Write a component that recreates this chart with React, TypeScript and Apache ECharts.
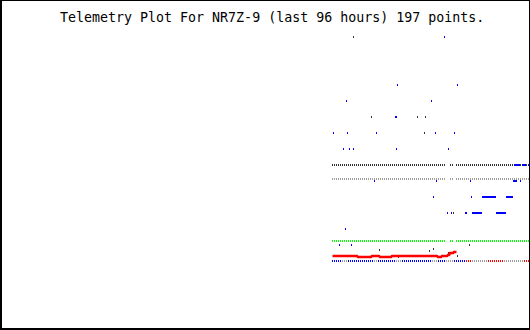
import { useEffect, useRef } from "react";
import * as echarts from "echarts";

const TITLE = "Telemetry Plot For NR7Z-9 (last 96 hours) 197 points.";

// sample index 0..98 (one reading every sample); null = no reading
const darkRow = [
  6,6,6,6,6,6,6,6,6,6, 6,6,6,6,6,6,6,6,6,6,
  6,6,6,6,6,6,6,6,6,6, 6,6,6,6,6,6,6,6,6,6,
  6,6,6,6,6,6,6,6,6,6, 6,6,6,6,6,6,6,null,null,6,
  6,null,6,6,6,6,6,6,6,6, 6,6,6,6,6,6,6,6,6,6,
  6,6,6,6,6,6,6,6,6,6, 6,6,6,6,6,6,6,6,6,
];
const grayRow = [
  5.125,5.125,5.125,5.125,5.125,5.125,5.125,5.125,5.125,5.125, 5.125,5.125,5.125,5.125,5.125,5.125,5.125,5.125,5.125,5.125,
  5.125,5.125,5.125,5.125,5.125,5.125,5.125,5.125,5.125,5.125, 5.125,5.125,5.125,5.125,5.125,5.125,5.125,5.125,5.125,5.125,
  5.125,5.125,5.125,5.125,5.125,5.125,5.125,5.125,5.125,5.125, 5.125,5.125,5.125,5.125,5.125,5.125,5.125,null,null,5.125,
  5.125,null,5.125,5.125,5.125,5.125,5.125,5.125,5.125,5.125, 5.125,5.125,5.125,5.125,5.125,5.125,5.125,5.125,5.125,5.125,
  5.125,5.125,5.125,5.125,5.125,5.125,5.125,5.125,5.125,5.125, 5.125,5.125,5.125,5.125,5.125,5.125,5.125,5.125,5.125,
];
const greenRow = [
  1.25,1.25,1.25,1.25,1.25,1.25,1.25,1.25,1.25,1.25, 1.25,1.25,1.25,1.25,1.25,1.25,1.25,1.25,1.25,1.25,
  1.25,1.25,1.25,1.25,1.25,1.25,1.25,1.25,1.25,1.25, 1.25,1.25,1.25,1.25,1.25,1.25,1.25,1.25,1.25,1.25,
  1.25,1.25,1.25,1.25,1.25,1.25,1.25,1.25,1.25,1.25, 1.25,1.25,1.25,1.25,1.25,1.25,1.25,null,null,1.25,
  1.25,null,1.25,1.25,1.25,1.25,1.25,1.25,1.25,1.25, 1.25,1.25,1.25,1.25,1.25,1.25,1.25,1.25,1.25,1.25,
  1.25,1.25,1.25,1.25,1.25,1.25,1.25,1.25,1.25,1.25, 1.25,1.25,1.25,1.25,1.25,1.25,1.25,1.25,1.25,
];
const grayBottom = [
  0,0,0,0,0,0,0,0,0,0, 0,0,0,0,0,0,0,0,0,0,
  0,0,0,0,0,0,0,0,0,0, 0,0,0,0,0,0,0,0,0,0,
  0,0,0,0,0,0,0,0,0,0, 0,0,0,0,0,0,0,0,0,0,
  0,0,0,0,0,0,0,0,0,0, 0,0,0,0,0,0,0,0,0,0,
  0,0,0,0,0,0,0,0,0,0, 0,0,0,0,0,0,0,0,0,
];
const blueBottom = [
  0,0,0,0,0,null,null,null,0,0, 0,0,0,0,0,0,0,0,0,0,
  0,null,null,0,0,0,0,0,0,0, 0,0,null,null,null,0,0,0,0,0,
  0,0,0,0,0,0,0,0,0,0, null,null,null,0,0,0,0,null,null,null,
  null,0,0,0,0,0,0,
];
const redLine = [
  0.3125,0.3125,0.3125,0.3125,0.3125,0.3125,0.3125,0.3125,0.3125,0.3125,
  0.3125,0.3125,0.3125,0.25,0.25,0.25,0.25,0.25,0.25,0.25,
  0.3125,0.3125,0.3125,0.3125,0.25,0.25,0.25,0.25,0.25,0.25,
  0.3125,0.3125,0.3125,0.3125,0.3125,0.3125,0.3125,0.3125,0.3125,0.3125,
  0.3125,0.3125,0.3125,0.3125,0.3125,0.3125,0.3125,0.3125,0.3125,0.3125,
  0.3125,0.3125,0.3125,0.25,0.25,0.3125,0.3125,0.3125,0.375,0.5,
  0.5,0.5625,0.5625,
];
// [sample, value] readings
const redBottom = [
  [67,0],[68,0],[69,0],[78,0],[79,0],[80,0],[81,0],[82,0],[83,0],[84,0],[85,0],[96,0],[97,0],[98,0],
];
const blueSpikes = [
  [0.5,8],[3.5,1],[5.5,7],[6.5,2],[7,10],[7.5,8],[8.5,7],[9.5,1],[10.5,7],[21,5],[22,8],
  [31.5,9],[32,9],[32,7],[32.5,11],[49.5,10],[50.5,4],[51.5,8],[52,5],[56,14],[57.5,3],
  [58,7],[59.5,3],[61,8],[62.5,11],[66.5,3],[67,3],[69,5],[69.5,4],
];
const blueRuns = [
  [70,3],[70.5,3],[71,3],[71.5,3],[72,3],[72.5,3],[73,3],[73.5,3],[74,3],[74.5,3],
  [75,4],[75.5,4],[76,4],[76.5,4],[77,4],[77.5,4],[78,4],[78.5,4],[79,4],[79.5,4],[80,4],[80.5,4],[81,4],[81.5,4],
  [82,3],[82.5,3],[83,3],[83.5,3],[84,3],[84.5,3],[85,3],[85.5,3],[86,3],[86.5,3],
  [87,4],[87.5,4],[88,4],[88.5,4],[89,4],[89.5,4],[90,4],
  [90.5,5],[91,5],[91.5,5],[92,5],[94,5],
  [91,6],[91.5,6],[92,6],[92.5,6],[93,6],[93.5,6],[95,6],[95.5,6],[96,6],[96.5,6],[98,6],
];
const darkSpikes = [
  [10.5,14],[19.5,9],[42.5,9],[46.5,9],[46,8],[60.5,3],[23.5,0.6875],[48.5,0.625],
  [50.5,0.75],[68.5,1],[58,0.5],[62.5,0.3125],[12.5,0.25],[33,0.25],
];

function pairs(arr: (number | null)[]) {
  const out: number[][] = [];
  arr.forEach((v, i) => {
    if (v !== null) out.push([i, v]);
  });
  return out;
}

function dots(name: string, data: number[][], color: string) {
  return {
    name,
    type: "scatter",
    symbol: "rect",
    symbolSize: [1, 2],
    data,
    itemStyle: { color, opacity: 1 },
    silent: true,
  };
}

export default function App() {
  const ref = useRef<HTMLDivElement>(null);
  useEffect(() => {
    const chart = echarts.init(ref.current!, null, { renderer: "svg" });
    chart.setOption({
      animation: false,
      backgroundColor: "#ffffff",
      grid: { left: 0.5, right: 1.5, top: 5, bottom: 69 },
      xAxis: { type: "value", min: -166, max: 98, show: false },
      yAxis: { type: "value", min: 0, max: 16, show: false },
      graphic: [
        { type: "rect", shape: { x: 0, y: 0, width: 2, height: 330 }, style: { fill: "#000" } },
        { type: "rect", shape: { x: 0, y: 328, width: 530, height: 2 }, style: { fill: "#000" } },
        { type: "rect", shape: { x: 0, y: 0, width: 530, height: 1 }, style: { fill: "#000" } },
        { type: "rect", shape: { x: 529, y: 0, width: 1, height: 330 }, style: { fill: "#000" } },
        {
          type: "text",
          x: 60,
          y: 17,
          style: {
            text: TITLE,
            fill: "#000",
            fontSize: 13.3,
            fontFamily: "DejaVu Sans Mono",
            align: "left",
            verticalAlign: "middle",
          },
        },
      ],
      series: [
        dots("grayBottom", pairs(grayBottom), "#a0a0a0"),
        dots("darkRow", pairs(darkRow), "#333333"),
        dots("grayRow", pairs(grayRow), "#a0a0a0"),
        dots("greenRow", pairs(greenRow), "#00ff00"),
        dots("redBottom", redBottom, "#ff0000"),
        dots("blue", [...pairs(blueBottom), ...blueSpikes, ...blueRuns], "#0000ff"),
        {
          name: "redLine",
          type: "line",
          step: "middle",
          showSymbol: false,
          symbol: "none",
          data: pairs(redLine),
          lineStyle: { color: "#ff0000", width: 2.5, cap: "butt" },
          silent: true,
        },
        dots("darkSpikes", darkSpikes, "#333333"),
      ],
    });
    return () => chart.dispose();
  }, []);
  return (
    <div
      ref={ref}
      style={{ position: "absolute", left: 0, top: 0, width: 530, height: 330, background: "#fff" }}
    />
  );
}
